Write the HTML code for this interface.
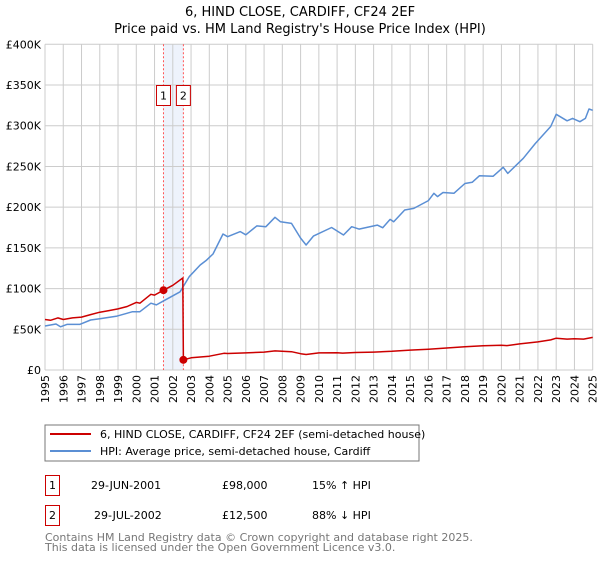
<!DOCTYPE html>
<html><head><meta charset="utf-8"><style>
body{margin:0;background:#fff;}
svg text{font-family:"DejaVu Sans","Liberation Sans",sans-serif;}
</style></head><body>
<svg id="c" width="600" height="560" xmlns="http://www.w3.org/2000/svg">
<text x="300" y="16" text-anchor="middle" font-size="13" fill="#000">6, HIND CLOSE, CARDIFF, CF24 2EF</text>
<text x="300" y="33" text-anchor="middle" font-size="13" fill="#000">Price paid vs. HM Land Registry's House Price Index (HPI)</text>
<g id="grid"></g><g id="axes"></g><g id="series"></g>
<rect x="45" y="425" width="374" height="36" fill="#fff" stroke="#777"/>
<line x1="50" y1="434" x2="91" y2="434" stroke="#cc0000" stroke-width="2"/>
<text x="100" y="438" font-size="11">6, HIND CLOSE, CARDIFF, CF24 2EF (semi-detached house)</text>
<line x1="50" y1="451" x2="91" y2="451" stroke="#5b8fd4" stroke-width="2"/>
<text x="100" y="455" font-size="11">HPI: Average price, semi-detached house, Cardiff</text>
<g>
<rect x="45.5" y="475.5" width="14" height="20" fill="#fff" stroke="#cc0000"/>
<text x="52.5" y="489" font-size="11" text-anchor="middle">1</text>
<text x="91" y="489" font-size="11">29-JUN-2001</text>
<text x="222" y="489" font-size="11">£98,000</text>
<text x="312" y="489" font-size="11">15% ↑ HPI</text></g>
<g>
<rect x="45.5" y="505.5" width="14" height="20" fill="#fff" stroke="#cc0000"/>
<text x="52.5" y="519" font-size="11" text-anchor="middle">2</text>
<text x="94" y="519" font-size="11">29-JUL-2002</text>
<text x="222" y="519" font-size="11">£12,500</text>
<text x="312" y="519" font-size="11">88% ↓ HPI</text></g>
<text x="45" y="541" font-size="11" fill="#777">Contains HM Land Registry data © Crown copyright and database right 2025.</text>
<text x="45" y="551" font-size="11" fill="#777">This data is licensed under the Open Government Licence v3.0.</text>
</svg>
<script>
const yTicks=[0,50,100,150,200,250,300,350,400];
const yTickLabels=["£0","£50K","£100K","£150K","£200K","£250K","£300K","£350K","£400K"];
const xYears=[1995,1996,1997,1998,1999,2000,2001,2002,2003,2004,2005,2006,2007,2008,2009,2010,2011,2012,2013,2014,2015,2016,2017,2018,2019,2020,2021,2022,2023,2024,2025];
const hpiT=[1995.0,1995.6,1995.85,1996.2,1996.9,1997.5,1998.0,1998.9,1999.8,2000.2,2000.8,2001.1,2001.5,2002.4,2002.9,2003.5,2003.85,2004.2,2004.75,2005.0,2005.7,2006.0,2006.6,2007.1,2007.6,2007.9,2008.5,2009.0,2009.3,2009.7,2010.7,2011.35,2011.8,2012.2,2013.2,2013.5,2013.9,2014.1,2014.7,2015.2,2016.0,2016.3,2016.5,2016.8,2017.4,2018.0,2018.4,2018.8,2019.55,2020.1,2020.35,2021.2,2021.85,2022.7,2023.0,2023.6,2023.9,2024.3,2024.6,2024.8,2025.0];
const hpiV=[54,56.5,53,56,56,61.4,63,66,71.6,71.6,82,80,85,96,114.6,129,135,142.5,167,163.7,170,166,177,176,187.5,182,180,162,153.5,164.5,175,165.8,176,173,178,174.8,185,182,196.5,198.5,208,217,213,218,217,229,230.5,238.6,238,249,241.5,260,278,299,314,306,309,305,309,320.5,319];
const priceT=[1995.0,1995.3,1995.7,1996.0,1996.5,1997.0,1997.5,1998.0,1998.5,1999.0,1999.5,2000.0,2000.2,2000.8,2001.0,2001.49,2002.0,2002.55,2002.58,2003.0,2004.0,2004.8,2005.0,2006.0,2007.0,2007.6,2008.5,2009.0,2009.3,2010.0,2011.0,2011.3,2012.0,2013.0,2014.0,2015.0,2016.0,2017.0,2018.0,2019.0,2020.0,2020.3,2021.0,2022.0,2022.7,2023.0,2023.6,2024.0,2024.5,2025.0];
const priceV=[62,61,64,62,64,65,68,71,73,75,78,83,82,93,92,98,104,113,12.5,15,17,20.5,20.3,21,22,23.5,22.5,20,19,21,21.3,20.8,21.5,22,23,24.5,25.5,27,28.5,29.8,30.5,30,32,34.5,37,39,38,38.5,38,40];
const saleT=[2001.49,2002.58];
const saleV=[98,12.5];
const X0=45,X1=592.7,Y0=370,Y1=44.3;
const xs=t=>X0+(t-1995)/30*(X1-X0);
const ys=v=>Y0-v/400*(Y0-Y1);
const NS="http://www.w3.org/2000/svg";
function mk(tag,parent,attrs){const e=document.createElementNS(NS,tag);for(const k in attrs)e.setAttribute(k,attrs[k]);parent.appendChild(e);return e;}
const grid=document.getElementById('grid'),axes=document.getElementById('axes'),ser=document.getElementById('series');
// shading
const sh=mk('rect',grid,{x:xs(saleT[0]),y:Y1,width:xs(saleT[1])-xs(saleT[0]),height:Y0-Y1,fill:'#eef3fc'});


xYears.forEach(y=>{const l=mk('line',grid,{x1:xs(y),x2:xs(y),y1:Y1,y2:Y0,stroke:'#cccccc','stroke-width':1});


const t=mk('text',axes,{x:0,y:0,'font-size':11,'text-anchor':'end',transform:`translate(${xs(y)+4},${Y0+5}) rotate(-90)`});t.textContent=y;

});
yTicks.forEach((v,i)=>{const l=mk('line',grid,{x1:X0,x2:X1,y1:ys(v),y2:ys(v),stroke:'#cccccc','stroke-width':1});


const t=mk('text',axes,{x:X0-4,y:ys(v)+4,'font-size':11,'text-anchor':'end'});t.textContent=yTickLabels[i];

});
saleT.forEach((s,i)=>{const l=mk('line',grid,{x1:xs(s),x2:xs(s),y1:Y1,y2:Y0,stroke:'#ff5555','stroke-width':1,'stroke-dasharray':'2,2'});


const bx=xs(s)-(i===0?10:-2)-(i===0?0:0);
const g=mk('g',ser,{});


const cx=xs(s)-7;mk('rect',g,{x:cx,y:85.5,width:14,height:20,fill:'#fff',stroke:'#cc0000'});
const t=mk('text',g,{x:cx+7,y:99.5,'font-size':11,'text-anchor':'middle'});t.textContent=i+1;});
function path(T,V,color,name){const d=T.map((t,i)=>(i?'L':'M')+xs(t).toFixed(1)+','+ys(V[i]).toFixed(1)).join('');
const p=mk('path',ser,{d:d,fill:'none',stroke:color,'stroke-width':1.5,'stroke-linejoin':'round'});

}
path(hpiT,hpiV,'#5b8fd4','hpi-line');
path(priceT,priceV,'#cc0000','price-paid-line');
saleT.forEach((s,i)=>{const c=mk('circle',ser,{cx:xs(s),cy:ys(saleV[i]),r:4,fill:'#cc0000'});

});
</script>
</body></html>
